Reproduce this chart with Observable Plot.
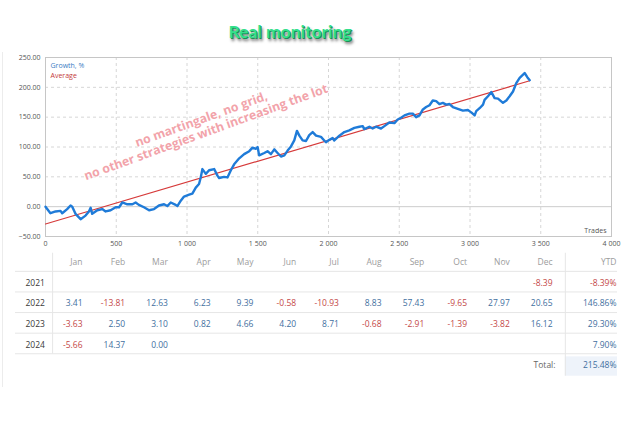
<!DOCTYPE html>
<html><head><meta charset="utf-8">
<script src="https://cdn.jsdelivr.net/npm/d3@7"></script>
<script src="https://cdn.jsdelivr.net/npm/@observablehq/plot@0.6"></script>
<style>
html,body{margin:0;padding:0;background:#fff;width:630px;height:421px;overflow:hidden;}
#root{position:relative;width:630px;height:421px;}
#title{position:absolute;left:290px;top:21px;transform:translateX(-50%);font:bold 17.5px Lato,"Open Sans",sans-serif;color:#33e08c;white-space:nowrap;text-shadow:1px 1px 0 #1b8f56,2px 3px 3px rgba(0,0,0,0.6);}
#chart{position:absolute;left:0;top:50px;}
#table{position:absolute;left:0;top:250px;}
#edge{position:absolute;left:2px;top:52px;height:335px;border-left:1px solid #ececec;}
g[aria-label="watermark"]{filter:drop-shadow(2px 2px 1.5px rgba(90,90,90,0.55));}
</style></head>
<body><div id="root"><div id="edge"></div><div id="title">Real monitoring</div><div id="chart"></div><div id="table"></div></div>
<script>
// ---- Chart data ----
const trades = [0,35,71,106,118,153,177,189,212,248,283,307,319,330,366,401,425,460,496,520,543,578,614,637,660,696,732,767,802,838,861,885,920,932,956,979,1015,1038,1062,1085,1097,1109,1133,1156,1192,1215,1227,1262,1286,1310,1333,1369,1404,1440,1463,1487,1499,1510,1546,1569,1593,1617,1640,1664,1688,1711,1735,1758,1777,1794,1817,1841,1864,1888,1912,1947,1970,1982,2006,2029,2041,2077,2112,2147,2183,2218,2242,2253,2289,2312,2336,2371,2395,2430,2466,2489,2513,2537,2572,2596,2619,2643,2667,2690,2714,2737,2761,2784,2808,2832,2855,2879,2914,2950,2985,3009,3033,3044,3068,3092,3103,3127,3151,3174,3198,3233,3257,3280,3304,3327,3351,3386,3405,3422];
const growth = [0,-11,-8,-7,-11,-4,2,0,-12,-21,-15,-8,-2,-12,-6,-4,-8,-6,-1,-1,7,4,4,7,3,-1,-6,-4,2,4,1,7,3,1,10,17,20,22,32,38,49,63,55,61,63,52,48,50,49,61,71,81,88,93,99,97,100,86,90,93,88,96,90,84,86,94,101,111,127,119,111,110,120,125,119,117,111,108,112,115,111,119,125,128,132,134,135,130,134,131,134,131,135,141,140,146,149,153,156,156,150,153,163,167,170,178,177,172,174,171,172,167,164,161,162,158,153,160,165,171,179,185,192,182,181,174,178,185,193,207,216,224,217,212];
const avgTrades = [0, 3422];
const avgGrowth = [-29, 211];
const xTicks = [0,500,1000,1500,2000,2500,3000,3500,4000];
const yTicks = [-50,0,50,100,150,200,250];
const legendLabels = ["Growth, %", "Average"];
const xAxisLabel = "Trades";
const watermark = ["no martingale, no grid,", "no other strategies with increasing the lot"];

// ---- Table data ----
const months = ["Jan","Feb","Mar","Apr","May","Jun","Jul","Aug","Sep","Oct","Nov","Dec"];
const years = ["2021","2022","2023","2024"];
const r2021 = [null,null,null,null,null,null,null,null,null,null,null,-8.39];
const r2022 = [3.41,-13.81,12.63,6.23,9.39,-0.58,-10.93,8.83,57.43,-9.65,27.97,20.65];
const r2023 = [-3.63,2.50,3.10,0.82,4.66,4.20,8.71,-0.68,-2.91,-1.39,-3.82,16.12];
const r2024 = [-5.66,14.37,0.00,null,null,null,null,null,null,null,null,null];
const ytd = [-8.39,146.86,29.30,7.90];
const total = 215.48;
const ytdHeader = "YTD";
const totalLabel = "Total:";

// ---- Chart ----
const growthRows = trades.map((t,i)=>({trade:t, value:growth[i]}));
const avgRows = avgTrades.map((t,i)=>({trade:t, value:avgGrowth[i]}));
const fmtK = d => d3.format(",")(d).replace(/,/g, " ");

const chart = Plot.plot({
  width: 630, height: 205,
  marginTop: 7, marginRight: 19, marginBottom: 19, marginLeft: 45,
  style: {fontFamily: "'Open Sans', sans-serif", fontSize: "7px", color: "#555", background: "transparent", overflow: "visible"},
  x: {domain: [0, 4000], ticks: xTicks, tickFormat: fmtK, tickSize: 0, tickPadding: 5, label: null},
  y: {domain: [-50, 250], ticks: yTicks, tickFormat: d3.format(".2f"), tickSize: 0, tickPadding: 5, label: null},
  marks: [
    Plot.ruleX(xTicks.slice(1, -1), {stroke: "#d6d6d6", strokeDasharray: "3,3"}),
    Plot.ruleY(yTicks.filter(v => v !== 0 && v !== -50 && v !== 250), {stroke: "#d6d6d6", strokeDasharray: "3,3"}),
    Plot.ruleY([0], {stroke: "#cdcdcd"}),
    Plot.frame({stroke: "#c6c6c6"}),
    Plot.line(avgRows, {x: "trade", y: "value", stroke: "#d63a3a", strokeWidth: 1.2}),
    Plot.line(growthRows, {x: "trade", y: "value", stroke: "#1f7bd8", strokeWidth: 2.4, strokeLinejoin: "round"}),
    Plot.text([legendLabels[0]], {text: d => d, frameAnchor: "top-left", dx: 5, dy: 8, textAnchor: "start", lineAnchor: "middle", fill: "#3b7dc4"}),
    Plot.text([legendLabels[1]], {text: d => d, frameAnchor: "top-left", dx: 5, dy: 18, textAnchor: "start", lineAnchor: "middle", fill: "#c43a3a"}),
    Plot.text([xAxisLabel], {text: d => d, frameAnchor: "bottom-right", dx: -5, dy: -6, textAnchor: "end", lineAnchor: "middle", fill: "#555"}),
    Plot.text([watermark.join("\n")], {text: d => d, frameAnchor: "top-left", dx: 158, dy: 68, rotate: -20,
      textAnchor: "middle", lineAnchor: "middle",
      fontSize: 12.3, fontWeight: "bold", fill: "#f2a3aa", stroke: "#ffffff", strokeWidth: 1.4, paintOrder: "stroke",
      lineHeight: 1.12, ariaLabel: "watermark"})
  ]
});
document.getElementById("chart").appendChild(chart);

// ---- Table ----
const yearReturns = [r2021, r2022, r2023, r2024];
const cells = [];
yearReturns.forEach((arr, yi) => arr.forEach((v, mi) => { if (v !== null) cells.push({row: yi + 1, col: mi + 1, value: v}); }));
const headerCells = months.map((m, i) => ({row: 0, col: i + 1, label: m}));
const yearCells = years.map((y, i) => ({row: i + 1, label: y}));
const ytdCells = ytd.map((v, i) => ({row: i + 1, value: v}));
const pos = "#3f6fa0", neg = "#c44848";
const lastRow = years.length + 1;

const table = Plot.plot({
  width: 630, height: 135,
  marginTop: 0, marginBottom: 0, marginLeft: 15, marginRight: 13,
  style: {fontFamily: "'Open Sans', sans-serif", fontSize: "8.5px", background: "transparent", overflow: "visible"},
  x: {type: "linear", domain: [1, 12], range: [82, 552], axis: null},
  y: {type: "linear", domain: [0, lastRow], range: [12, 115], axis: null},
  marks: [
    Plot.rect([total], {x1: 12.30, x2: 13.52, y1: lastRow - 0.42, y2: lastRow + 0.52, fill: "#eef3fa"}),
    Plot.ruleY(d3.range(lastRow).map(i => i + 0.43), {stroke: "#e6e6e6"}),
    Plot.ruleX([0.3], {y1: -0.45, y2: lastRow - 0.55, stroke: "#e6e6e6"}),
    Plot.ruleX([12.30], {y1: -0.45, y2: lastRow + 0.52, stroke: "#e6e6e6"}),
    Plot.text(headerCells, {x: "col", y: "row", text: "label", textAnchor: "end", fill: "#9c9c9c"}),
    Plot.text([{row: 0, label: ytdHeader}], {y: "row", text: "label", frameAnchor: "right", dx: -1, textAnchor: "end", fill: "#9c9c9c"}),
    Plot.text(yearCells, {y: "row", text: "label", frameAnchor: "left", dx: 10, textAnchor: "start", fill: "#3a3a3a"}),
    Plot.text(cells, {x: "col", y: "row", text: d => d.value.toFixed(2), textAnchor: "end", fill: d => d.value < 0 ? neg : pos}),
    Plot.text(ytdCells, {y: "row", text: d => d.value.toFixed(2) + "%", frameAnchor: "right", dx: -1, textAnchor: "end", fill: d => d.value < 0 ? neg : pos}),
    Plot.text([{row: lastRow, label: totalLabel}], {x: d => 12, y: "row", text: "label", textAnchor: "end", dx: 3, fill: "#666"}),
    Plot.text([{row: lastRow, value: total}], {y: "row", text: d => d.value.toFixed(2) + "%", frameAnchor: "right", dx: -1, textAnchor: "end", fill: pos})
  ]
});
document.getElementById("table").appendChild(table);
</script>
</body></html>
